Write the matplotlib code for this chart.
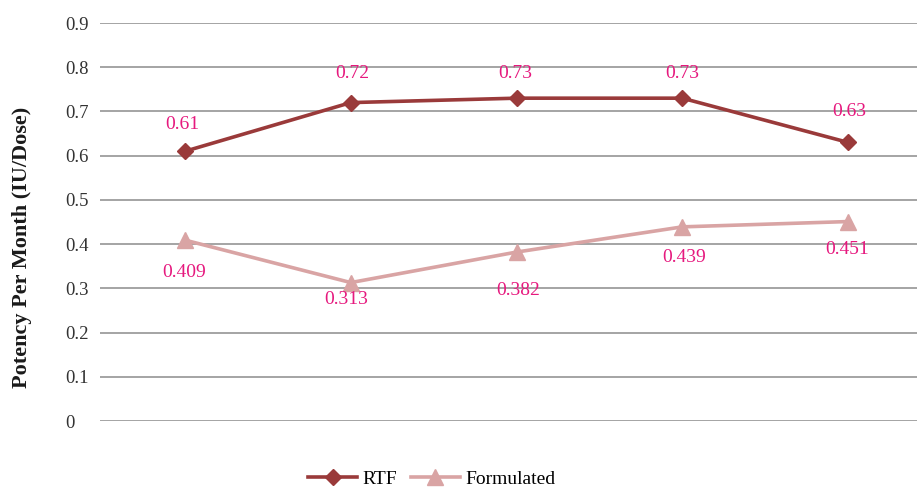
import matplotlib
matplotlib.use("Agg")
import matplotlib.pyplot as plt

# Data
categories = ["1", "2", "3", "4", "5"]
rtf = [0.61, 0.72, 0.73, 0.73, 0.63]
formulated = [0.409, 0.313, 0.382, 0.439, 0.451]
yticks = [0, 0.1, 0.2, 0.3, 0.4, 0.5, 0.6, 0.7, 0.8, 0.9]
ytick_labels = ["0", "0.1", "0.2", "0.3", "0.4", "0.5", "0.6", "0.7", "0.8", "0.9"]

# label offsets (points) relative to each marker
rtf_offsets = [(-2, 19), (1, 21), (-1, 18), (0, 18), (1, 22)]
form_offsets = [(-1, -23), (-3, -12), (1, -28), (1, -22), (-1, -20)]

plt.rcParams["font.family"] = ["Liberation Serif", "DejaVu Serif"]

RTF_COLOR = "#9a3a3a"
FORM_COLOR = "#d9a4a4"
LABEL_COLOR = "#e6197e"
GRID_COLOR = "#8c8c8c"

fig = plt.figure(figsize=(9.17, 4.88), dpi=100)
ax = fig.add_axes([100 / 917, 67 / 488, 817 / 917, 398 / 488])

x = list(range(len(categories)))
ax.plot(x, rtf, color=RTF_COLOR, lw=2.6, marker="D", ms=8,
        label="RTF", zorder=3)
ax.plot(x, formulated, color=FORM_COLOR, lw=2.6, marker="^", ms=11,
        label="Formulated", zorder=3)

for xi, v, (dx, dy) in zip(x, rtf, rtf_offsets):
    ax.annotate(f"{v:g}", (xi, v), xytext=(dx, dy), textcoords="offset points",
                ha="center", va="center", color=LABEL_COLOR, fontsize=14)
for xi, v, (dx, dy) in zip(x, formulated, form_offsets):
    ax.annotate(f"{v:g}", (xi, v), xytext=(dx, dy), textcoords="offset points",
                ha="center", va="center", color=LABEL_COLOR, fontsize=14)

ax.set_xlim(-0.513, 4.416)
ax.set_ylim(0, 0.9)
ax.set_yticks(yticks)
ax.set_yticklabels(ytick_labels)
ax.set_xticks([])
ax.grid(axis="y", color=GRID_COLOR, lw=1.1)
ax.set_axisbelow(True)
for s in ax.spines.values():
    s.set_visible(False)
ax.tick_params(axis="y", length=0, pad=25, labelsize=13.5, labelcolor="#333333")
for lab in ax.get_yticklabels():
    lab.set_horizontalalignment("left")

fig.text(22 / 917, 1 - 247 / 488, "Potency Per Month (IU/Dose)", rotation=90,
         ha="center", va="center", fontsize=16, fontweight="bold", color="#1a1a1a")

fig.legend(loc="center", bbox_to_anchor=(432 / 917, 1 - 479 / 488), ncol=2,
           frameon=False, fontsize=14, handlelength=2.5, columnspacing=0.7,
           handletextpad=0.3)

fig.savefig("out.png", dpi=100)
